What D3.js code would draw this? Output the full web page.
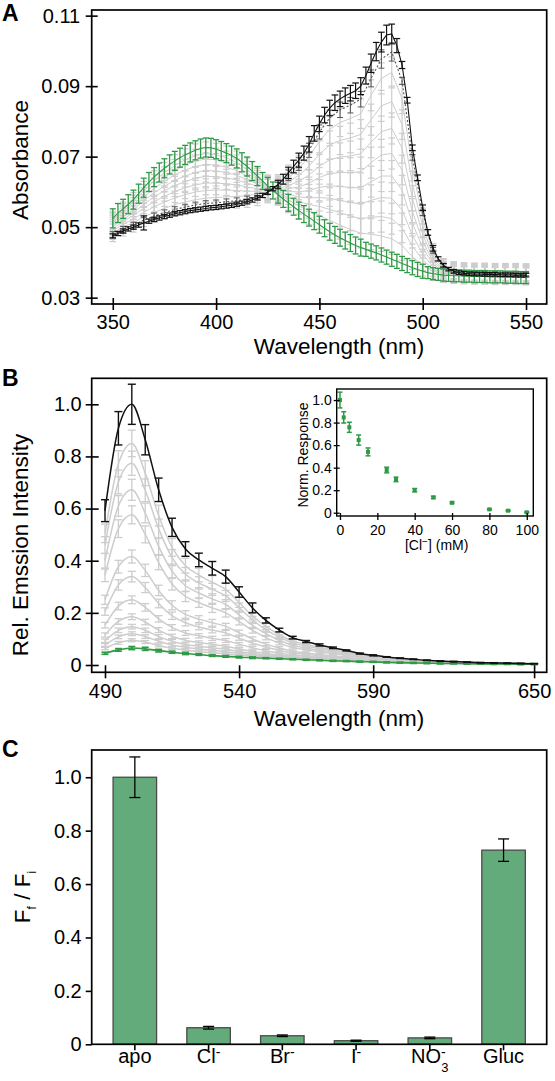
<!DOCTYPE html>
<html><head><meta charset="utf-8">
<script src="https://cdn.jsdelivr.net/npm/d3@7"></script>
<style>body{margin:0;background:#fff}svg{display:block}</style>
</head><body><svg id="c" width="555" height="1081"></svg>
<script>
// ---------------- Panel A data ----------------
const wlA_fine = d3.range(350, 550.01, 2.5);   // 81 wavelengths (nm)
const wlA = d3.range(350, 550.01, 5);          // 41 wavelengths (nm)
const xTicksA = [350, 400, 450, 500, 550];
const yTicksA = [0.03, 0.05, 0.07, 0.09, 0.11];

const blackA = [.0475,.0482,.0489,.0495,.0500,.0506,.0512,.0517,.0522,.0526,.0530,.0534,.0538,.0541,.0544,.0547,.0549,.0551,.0553,.0555,.0556,.0558,.0560,.0562,.0565,.0568,.0572,.0577,.0583,.0590,.0599,.0609,.0621,.0636,.0654,.0672,.0690,.0710,.0735,.0766,.0793,.0818,.0838,.0853,.0864,.0873,.0880,.0887,.0900,.0930,.0965,.0998,.1025,.1045,.1048,.1015,.0960,.0860,.0725,.0640,.0555,.0485,.0440,.0410,.0392,.0381,.0375,.0371,.0369,.0368,.0367,.0367,.0366,.0366,.0366,.0365,.0365,.0365,.0364,.0364,.0364];
const blackAErr = [.0006,.0006,.0006,.0006,.0006,.0006,.0020,.0006,.0006,.0006,.0006,.0006,.0006,.0006,.0006,.0006,.0006,.0006,.0006,.0006,.0006,.0006,.0006,.0006,.0006,.0006,.0006,.0006,.0006,.0006,.0006,.0006,.0012,.0014,.0016,.0018,.0020,.0020,.0022,.0022,.0022,.0022,.0022,.0022,.0022,.0022,.0022,.0022,.0024,.0024,.0026,.0026,.0028,.0028,.0028,.0020,.0010,.0008,.0008,.0008,.0008,.0008,.0008,.0006,.0005,.0005,.0005,.0005,.0005,.0005,.0005,.0005,.0005,.0005,.0005,.0005,.0005,.0005,.0005,.0005,.0005];
const greenA = [.0525,.0540,.0552,.0565,.0578,.0595,.0612,.0628,.0642,.0655,.0667,.0678,.0688,.0697,.0705,.0712,.0718,.0723,.0726,.0725,.0721,.0716,.0710,.0703,.0695,.0684,.0672,.0659,.0645,.0631,.0617,.0604,.0592,.0580,.0569,.0558,.0547,.0537,.0527,.0517,.0507,.0497,.0487,.0478,.0470,.0462,.0455,.0448,.0442,.0437,.0432,.0427,.0421,.0415,.0409,.0403,.0397,.0391,.0385,.0380,.0375,.0371,.0368,.0366,.0364,.0363,.0362,.0362,.0361,.0361,.0360,.0360,.0360,.0359,.0359,.0359,.0358,.0358,.0358,.0357,.0357];
const greenAErr = [.0027,.0027,.0027,.0027,.0027,.0027,.0027,.0027,.0027,.0027,.0027,.0027,.0027,.0027,.0027,.0027,.0027,.0027,.0027,.0027,.0027,.0027,.0027,.0027,.0027,.0027,.0027,.0027,.0027,.0024,.0024,.0024,.0024,.0024,.0024,.0024,.0024,.0024,.0024,.0024,.0024,.0024,.0024,.0024,.0024,.0024,.0024,.0024,.0024,.0020,.0020,.0020,.0020,.0020,.0020,.0020,.0020,.0020,.0020,.0020,.0020,.0017,.0017,.0017,.0017,.0017,.0017,.0017,.0017,.0017,.0017,.0017,.0017,.0017,.0017,.0017,.0017,.0017,.0017,.0017,.0017];
const darkA = [.0479,.0494,.0506,.0520,.0532,.0541,.0550,.0557,.0563,.0567,.0569,.0572,.0575,.0580,.0588,.0600,.0619,.0647,.0679,.0718,.0770,.0810,.0833,.0846,.0863,.0922,.0977,.0997,.0915,.0698,.0541,.0434,.0390,.0374,.0371,.0370,.0369,.0369,.0368,.0368,.0367];
const darkAErr = [.0008,.0008,.0008,.0008,.0008,.0008,.0008,.0008,.0008,.0008,.0008,.0008,.0008,.0008,.0008,.0008,.0008,.0015,.0018,.0020,.0020,.0022,.0022,.0022,.0022,.0024,.0026,.0026,.0010,.0008,.0008,.0008,.0006,.0005,.0005,.0005,.0005,.0005,.0005,.0005,.0005];
const grayA1 = [.0484,.0500,.0513,.0529,.0542,.0553,.0564,.0571,.0578,.0582,.0584,.0586,.0587,.0589,.0594,.0602,.0616,.0640,.0666,.0700,.0744,.0778,.0797,.0808,.0822,.0874,.0922,.0939,.0864,.0667,.0524,.0428,.0387,.0378,.0375,.0374,.0374,.0373,.0373,.0373,.0372];
const grayA2 = [.0490,.0508,.0523,.0542,.0558,.0571,.0583,.0592,.0600,.0604,.0605,.0605,.0604,.0602,.0602,.0604,.0612,.0629,.0647,.0673,.0707,.0733,.0746,.0753,.0763,.0805,.0844,.0856,.0791,.0623,.0501,.0418,.0384,.0376,.0374,.0373,.0372,.0372,.0371,.0371,.0371];
const grayA3 = [.0496,.0516,.0533,.0554,.0572,.0588,.0601,.0612,.0620,.0625,.0625,.0623,.0620,.0614,.0609,.0607,.0609,.0618,.0630,.0648,.0673,.0691,.0699,.0702,.0708,.0741,.0771,.0780,.0724,.0582,.0479,.0410,.0380,.0374,.0372,.0371,.0371,.0370,.0370,.0370,.0369];
const grayA4 = [.0502,.0522,.0541,.0565,.0586,.0603,.0618,.0629,.0639,.0644,.0643,.0640,.0634,.0625,.0616,.0609,.0606,.0609,.0614,.0625,.0641,.0652,.0655,.0655,.0657,.0683,.0705,.0709,.0662,.0545,.0460,.0402,.0377,.0372,.0370,.0369,.0369,.0368,.0368,.0368,.0367];
const grayA5 = [.0507,.0529,.0549,.0575,.0598,.0616,.0633,.0645,.0655,.0661,.0659,.0655,.0647,.0635,.0622,.0610,.0603,.0601,.0600,.0604,.0613,.0617,.0616,.0612,.0612,.0629,.0645,.0645,.0605,.0511,.0442,.0395,.0374,.0370,.0368,.0367,.0367,.0366,.0366,.0366,.0366];
const grayA6 = [.0512,.0535,.0557,.0585,.0610,.0630,.0648,.0662,.0672,.0678,.0676,.0670,.0660,.0645,.0628,.0612,.0600,.0592,.0586,.0583,.0584,.0582,.0576,.0570,.0566,.0576,.0584,.0582,.0549,.0477,.0424,.0387,.0372,.0368,.0366,.0366,.0365,.0365,.0365,.0364,.0364];
const grayA7 = [.0516,.0541,.0564,.0594,.0620,.0642,.0661,.0676,.0688,.0693,.0691,.0683,.0672,.0654,.0634,.0614,.0597,.0584,.0573,.0564,.0559,.0550,.0541,.0532,.0524,.0528,.0530,.0524,.0498,.0446,.0407,.0381,.0369,.0366,.0365,.0364,.0364,.0363,.0363,.0363,.0362];
const grayA8 = [.0520,.0546,.0571,.0603,.0631,.0655,.0675,.0691,.0703,.0709,.0705,.0697,.0683,.0663,.0639,.0615,.0595,.0577,.0560,.0546,.0533,.0519,.0506,.0493,.0483,.0480,.0475,.0467,.0448,.0416,.0391,.0375,.0367,.0364,.0363,.0362,.0362,.0361,.0361,.0361,.0360];
const grayAErr = [.0025,.0025,.0027,.0027,.0029,.0029,.0031,.0031,.0033,.0033,.0033,.0033,.0033,.0033,.0033,.0033,.0033,.0036,.0036,.0038,.0038,.0040,.0040,.0042,.0042,.0044,.0044,.0044,.0042,.0036,.0030,.0026,.0024,.0024,.0024,.0024,.0024,.0024,.0024,.0024,.0024];

// ---------------- Panel B data ----------------
const wlB = d3.range(490, 650.01, 5);          // 33 wavelengths (nm)
const xTicksB = [490, 540, 590, 650];
const yTicksB = [0, 0.2, 0.4, 0.6, 0.8, 1.0];
const blackB = [.592,.908,1.0,.864,.672,.528,.445,.403,.371,.339,.280,.219,.171,.134,.105,.090,.077,.066,.056,.044,.037,.031,.026,.022,.018,.015,.013,.011,.009,.008,.007,.006,.005];
const blackBErr = [.042,.064,.077,.058,.045,.035,.028,.026,.026,.025,.020,.019,.010,.007,.005,.004,.004,.003,.002,.002,.002,.001,.001,.001,.001,.001,.001,.001,.001,.001,.001,.001,.001];
const greenB = [.045,.058,.065,.062,.055,.049,.044,.040,.036,.033,.030,.028,.026,.024,.022,.020,.018,.016,.015,.013,.012,.010,.009,.008,.007,.006,.006,.005,.005,.004,.004,.003,.003];
const greenBErr = [.004,.005,.006,.006,.005,.004,.004,.003,.003,.003,.003,.003,.002,.002,.002,.002,.002,.002,.002,.002,.002,.002,.002,.002,.002,.002,.002,.002,.002,.002,.002,.002,.002];
const grayB1 = [.505,.772,.850,.736,.573,.451,.381,.345,.317,.290,.240,.188,.148,.116,.092,.079,.068,.058,.049,.039,.033,.028,.023,.020,.016,.014,.012,.010,.008,.007,.007,.006,.005];
const grayB2 = [.460,.702,.774,.670,.523,.412,.348,.315,.290,.265,.220,.173,.136,.107,.085,.073,.063,.054,.046,.037,.031,.026,.022,.019,.015,.013,.011,.010,.008,.007,.006,.005,.005];
const grayB3 = [.400,.610,.672,.583,.455,.360,.304,.276,.253,.232,.192,.152,.120,.095,.076,.065,.056,.049,.042,.033,.028,.024,.020,.017,.014,.012,.011,.009,.008,.007,.006,.005,.004];
const grayB4 = [.344,.523,.576,.501,.393,.311,.263,.239,.219,.200,.167,.133,.105,.084,.067,.058,.050,.043,.037,.030,.026,.022,.018,.016,.013,.011,.010,.008,.007,.006,.006,.005,.004];
const grayB5 = [.250,.377,.416,.363,.286,.229,.194,.176,.162,.148,.124,.100,.080,.065,.053,.046,.040,.035,.030,.025,.021,.018,.015,.013,.011,.009,.009,.007,.007,.006,.005,.004,.004];
const grayB6 = [.205,.307,.339,.297,.236,.189,.162,.146,.134,.123,.103,.084,.069,.056,.046,.041,.035,.031,.027,.022,.019,.016,.014,.012,.010,.009,.008,.007,.006,.005,.005,.004,.004];
const grayB7 = [.153,.226,.250,.221,.177,.144,.123,.112,.102,.094,.080,.066,.055,.046,.038,.034,.030,.026,.023,.019,.017,.014,.012,.011,.009,.008,.007,.006,.006,.005,.005,.004,.003];
const grayB8 = [.115,.167,.185,.165,.134,.110,.095,.086,.079,.072,.062,.052,.045,.038,.033,.029,.026,.022,.020,.017,.015,.013,.011,.010,.008,.007,.007,.006,.006,.005,.004,.003,.003];
const grayB9 = [.093,.133,.147,.133,.109,.091,.079,.072,.066,.060,.052,.045,.039,.034,.029,.026,.023,.020,.019,.016,.014,.012,.010,.009,.008,.007,.007,.006,.005,.004,.004,.003,.003];
const grayB10 = [.077,.108,.120,.109,.091,.077,.068,.061,.056,.051,.045,.039,.035,.031,.027,.024,.022,.019,.017,.015,.014,.011,.010,.009,.008,.007,.006,.005,.005,.004,.004,.003,.003];
const grayB11 = [.063,.085,.095,.088,.075,.064,.057,.052,.047,.043,.038,.034,.031,.028,.025,.022,.020,.018,.016,.014,.013,.011,.010,.008,.007,.006,.006,.005,.005,.004,.004,.003,.003];
const grayBRelErr = [.07,.065,.06,.065,.07,.075,.075,.075,.08,.08,.08,.08,.08,.08,.08,.08,.08,.08,.08,.08,.06,.05,.05,.04,.04,.03,.03,.03,.02,.02,.02,.02,.02];

// inset
const clConc = [0, 2, 5, 10, 15, 25, 30, 40, 50, 60, 80, 90, 100];
const normResp = [1.0, .846, .758, .645, .54, .379, .296, .20, .136, .089, .03, .018, .004];
const normRespErr = [.07, .05, .045, .045, .035, .025, .02, .015, .01, .008, .005, .004, .004];
const xTicksIn = [0, 20, 40, 60, 80, 100];
const yTicksIn = [0, 0.2, 0.4, 0.6, 0.8, 1.0];

// ---------------- Panel C data ----------------
const catBase = ["apo", "Cl", "Br", "I", "NO", "Gluc"];
const catSup = ["", "-", "-", "-", "-", ""];
const catSub = ["", "", "", "", "3", ""];
const ratio = [1.0, .062, .032, .0135, .024, .727];
const ratioErr = [.076, .005, .003, .002, .003, .042];
const yTicksC = [0, 0.2, 0.4, 0.6, 0.8, 1.0];

// ---------------- drawing ----------------
const FONT = '"Liberation Sans", Arial, Helvetica, sans-serif';
const GREEN = "#2f9a45";
const GRAY = "#cdcdcd";
const svg = d3.select("#c");
svg.append("rect").attr("width", 555).attr("height", 1081).attr("fill", "#fff");

function errSeries(g, xs, vals, errs, x, y, o) {
  const line = d3.line().x((d, i) => x(xs[i])).y(d => y(d)).curve(o.curve || d3.curveLinear);
  const eg = g.append("g").attr("stroke", o.color).attr("stroke-width", o.ew).attr("fill", "none");
  vals.forEach((v, i) => {
    const e = errs[i];
    const cx = x(xs[i]), y1 = y(v - e), y2 = y(v + e);
    eg.append("line").attr("x1", cx).attr("x2", cx).attr("y1", y1).attr("y2", y2);
    eg.append("line").attr("x1", cx - o.cap).attr("x2", cx + o.cap).attr("y1", y1).attr("y2", y1);
    eg.append("line").attr("x1", cx - o.cap).attr("x2", cx + o.cap).attr("y1", y2).attr("y2", y2);
  });
  g.append("path").attr("d", line(vals)).attr("fill", "none")
    .attr("stroke", o.lineColor || o.color).attr("stroke-width", o.lw)
    .attr("stroke-dasharray", o.dash || null);
}
function styleAxis(g, fs) {
  g.select(".domain").remove();
  g.selectAll("text").attr("font-size", fs).attr("font-family", FONT).attr("fill", "#000");
  g.selectAll(".tick line").attr("stroke", "#000").attr("stroke-width", 1.6);
}
function frame(g, x0, y0, x1, y1, sw) {
  g.append("rect").attr("x", x0).attr("y", y0).attr("width", x1 - x0).attr("height", y1 - y0)
    .attr("fill", "none").attr("stroke", "#000").attr("stroke-width", sw);
}
function label(txt, x, y, fs, opts = {}) {
  const t = svg.append("text").attr("x", x).attr("y", y).attr("font-size", fs)
    .attr("font-family", FONT).attr("fill", "#000").attr("text-anchor", opts.anchor || "start")
    .attr("font-weight", opts.bold ? "bold" : null).text(txt);
  if (opts.rotate) t.attr("transform", `rotate(-90,${x},${y})`);
  return t;
}
const fmt = d => d === 0 ? "0" : d3.format(".1f")(d);

// ===== Panel A =====
const A = { l: 91.7, r: 546.7, t: 10, b: 304 };
const xA = d3.scaleLinear().domain([339.8, 560]).range([A.l, A.r]);
const yA = d3.scaleLinear().domain([0.0282, 0.1116]).range([A.b, A.t]);
const gA = svg.append("g");
[grayA1, grayA2, grayA3, grayA4, grayA5, grayA6, grayA7, grayA8].forEach(s =>
  errSeries(gA, wlA, s, grayAErr, xA, yA, { color: GRAY, lw: 1, ew: 1.2, cap: 3.3 }));
errSeries(gA, wlA, darkA, darkAErr, xA, yA, { color: "#555", lw: 1.1, ew: 1.0, cap: 3, dash: "2,2" });
errSeries(gA, wlA_fine, greenA, greenAErr, xA, yA, { color: GREEN, lw: 1.1, ew: 1.3, cap: 3 });
errSeries(gA, wlA_fine, blackA, blackAErr, xA, yA, { color: "#111", lw: 1.1, ew: 1.2, cap: 3.3 });

const axAx = gA.append("g").attr("transform", `translate(0,${A.b})`)
  .call(d3.axisBottom(xA).tickValues(xTicksA).tickSize(6).tickPadding(5).tickFormat(d3.format("d")));
axAx.selectAll(".tick line").attr("y1", -6);
styleAxis(axAx, 20);
const axAy = gA.append("g").attr("transform", `translate(${A.l},0)`)
  .call(d3.axisLeft(yA).tickValues(yTicksA).tickSize(6).tickPadding(5.5).tickFormat(d3.format(".2f")));
axAy.selectAll(".tick line").attr("x1", 6);
styleAxis(axAy, 20);
frame(gA, A.l, A.t, A.r, A.b, 1.7);
label("Wavelength (nm)", 339, 354, 22.5, { anchor: "middle" });
label("Absorbance", 28, 160, 22.5, { anchor: "middle", rotate: true });
label("A", 2, 21, 23, { bold: true });

// ===== Panel B =====
const B = { l: 91.7, r: 546.7, t: 378.3, b: 672.3 };
const xB = d3.scaleLinear().domain([485.04, 654.7]).range([B.l, B.r]);
const yB = d3.scaleLinear().domain([-0.028, 1.0997]).range([B.b, B.t]);
const gB = svg.append("g");
[grayB11, grayB10, grayB9, grayB8, grayB7, grayB6, grayB5, grayB4, grayB3, grayB2, grayB1].forEach(s =>
  errSeries(gB, wlB, s, s.map((v, i) => v * grayBRelErr[i]), xB, yB,
    { color: GRAY, lw: 1.5, ew: 1.3, cap: 4, curve: d3.curveMonotoneX }));
errSeries(gB, wlB, greenB, greenBErr, xB, yB, { color: GREEN, lw: 1.6, ew: 1.6, cap: 3.5, curve: d3.curveMonotoneX });
errSeries(gB, wlB, blackB, blackBErr, xB, yB, { color: "#111", lw: 1.5, ew: 1.4, cap: 4, curve: d3.curveMonotoneX });

const axBx = gB.append("g").attr("transform", `translate(0,${B.b})`)
  .call(d3.axisBottom(xB).tickValues(xTicksB).tickSize(6).tickPadding(5.5).tickFormat(d3.format("d")));
axBx.selectAll(".tick line").attr("y1", -7);
styleAxis(axBx, 20);
const axBy = gB.append("g").attr("transform", `translate(${B.l},0)`)
  .call(d3.axisLeft(yB).tickValues(yTicksB).tickSize(6).tickPadding(4).tickFormat(fmt));
axBy.selectAll(".tick line").attr("x1", 7);
styleAxis(axBy, 20);
frame(gB, B.l, B.t, B.r, B.b, 1.7);
label("Wavelength (nm)", 339, 726, 22.5, { anchor: "middle" });
label("Rel. Emssion Intensity", 28, 545, 22.5, { anchor: "middle", rotate: true });
label("B", 2, 386, 23, { bold: true });

// inset
const I = { l: 336.7, r: 533.3, t: 389, b: 516 };
const xI = d3.scaleLinear().domain([-1.76, 103.5]).range([I.l, I.r]);
const yI = d3.scaleLinear().domain([-0.029, 1.098]).range([I.b, I.t]);
const gI = svg.append("g");
gI.append("rect").attr("x", I.l).attr("y", I.t).attr("width", I.r - I.l).attr("height", I.b - I.t).attr("fill", "#fff");
const eI = gI.append("g").attr("stroke", GREEN).attr("stroke-width", 1.5);
clConc.forEach((c, i) => {
  const cx = xI(c), y1 = yI(normResp[i] - normRespErr[i]), y2 = yI(normResp[i] + normRespErr[i]);
  eI.append("line").attr("x1", cx).attr("x2", cx).attr("y1", y1).attr("y2", y2);
  eI.append("line").attr("x1", cx - 2.5).attr("x2", cx + 2.5).attr("y1", y1).attr("y2", y1);
  eI.append("line").attr("x1", cx - 2.5).attr("x2", cx + 2.5).attr("y1", y2).attr("y2", y2);
});
gI.selectAll("rect.pt").data(clConc).join("rect").attr("class", "pt")
  .attr("x", d => xI(d) - 2).attr("y", (d, i) => yI(normResp[i]) - 2)
  .attr("width", 4).attr("height", 4).attr("fill", GREEN);
const axIx = gI.append("g").attr("transform", `translate(0,${I.b})`)
  .call(d3.axisBottom(xI).tickValues(xTicksIn).tickSize(4).tickPadding(5).tickFormat(d3.format("d")));
axIx.selectAll(".tick line").attr("y1", -3);
styleAxis(axIx, 14);
axIx.selectAll(".tick line").attr("stroke-width", 1.3);
const axIy = gI.append("g").attr("transform", `translate(${I.l},0)`)
  .call(d3.axisLeft(yI).tickValues(yTicksIn).tickSize(3).tickPadding(2).tickFormat(fmt));
axIy.selectAll(".tick line").attr("x1", 3);
styleAxis(axIy, 14);
axIy.selectAll(".tick line").attr("stroke-width", 1.3);
frame(gI, I.l, I.t, I.r, I.b, 1.4);
const tIx = label("[Cl", 436.7, 550, 14, { anchor: "middle" });
tIx.append("tspan").attr("dy", -5).attr("font-size", 10).text("−");
tIx.append("tspan").attr("dy", 5).text("] (mM)");
label("Norm. Response", 308, 455, 14, { anchor: "middle", rotate: true });

// ===== Panel C =====
const C = { l: 91.7, r: 546.7, t: 750, b: 1044.3 };
const xC = d3.scaleBand().domain(catBase.map((d, i) => i)).range([C.l, C.r]).paddingInner(0.41).paddingOuter(0.29);
const yC = d3.scaleLinear().domain([0, 1.102]).range([C.b, C.t]);
const gC = svg.append("g");
gC.selectAll("rect.bar").data(ratio).join("rect").attr("class", "bar")
  .attr("x", (d, i) => xC(i)).attr("y", d => yC(d)).attr("width", xC.bandwidth())
  .attr("height", d => C.b - yC(d)).attr("fill", "#64ab7b").attr("stroke", "#4a4a4a").attr("stroke-width", 1.3);
const eC = gC.append("g").attr("stroke", "#000").attr("stroke-width", 1.3);
ratio.forEach((v, i) => {
  const cx = xC(i) + xC.bandwidth() / 2, y1 = yC(v - ratioErr[i]), y2 = yC(v + ratioErr[i]);
  eC.append("line").attr("x1", cx).attr("x2", cx).attr("y1", y1).attr("y2", y2);
  eC.append("line").attr("x1", cx - 5.5).attr("x2", cx + 5.5).attr("y1", y1).attr("y2", y1);
  eC.append("line").attr("x1", cx - 5.5).attr("x2", cx + 5.5).attr("y1", y2).attr("y2", y2);
});
const axCx = gC.append("g").attr("transform", `translate(0,${C.b})`)
  .call(d3.axisBottom(xC).tickSize(6).tickPadding(0).tickFormat(""));
styleAxis(axCx, 20);
axCx.selectAll(".tick").each(function (d) {
  const t = d3.select(this).select("text").attr("dy", "0.71em").attr("y", 5);
  t.text(catBase[d]);
  if (catSup[d]) {
    t.append("tspan").attr("dy", "-0.45em").attr("font-size", 14).text(catSup[d]);
    if (catSub[d]) t.append("tspan").attr("dx", -4.5).attr("dy", "1.15em").attr("font-size", 13).text(catSub[d]);
  }
});
const axCy = gC.append("g").attr("transform", `translate(${C.l},0)`)
  .call(d3.axisLeft(yC).tickValues(yTicksC).tickSize(6).tickPadding(4).tickFormat(fmt));
styleAxis(axCy, 20);
frame(gC, C.l, C.t, C.r, C.b, 1.7);
const tC = label("F", 30, 897, 22.5, { anchor: "middle", rotate: true });
tC.append("tspan").attr("dy", 6).attr("font-size", 12).text("f");
tC.append("tspan").attr("dy", -6).text(" / F");
tC.append("tspan").attr("dy", 6).attr("font-size", 12).text("i");
label("C", 2, 757, 23, { bold: true });
</script></body></html>
